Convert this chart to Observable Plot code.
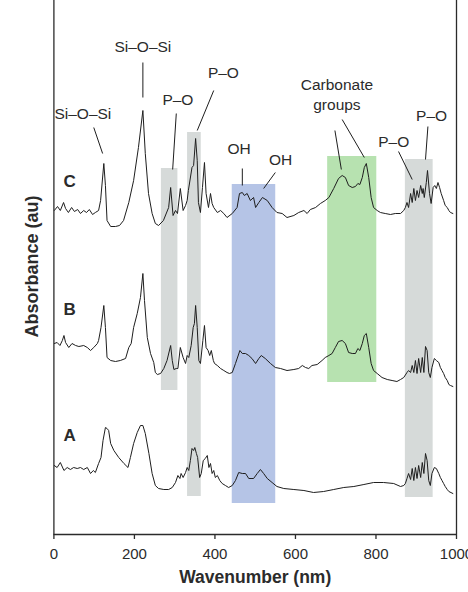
<!DOCTYPE html>
<html>
<head>
<meta charset="utf-8">
<script src="https://cdn.jsdelivr.net/npm/d3@7"></script>
<script src="https://cdn.jsdelivr.net/npm/@observablehq/plot@0.6"></script>
<style>
  html, body { margin: 0; padding: 0; background: #fff; }
  #chart svg { display: block; }
</style>
</head>
<body>
<div id="chart"></div>
<script>
// Absorbance spectra of three samples (A, B, C), offset vertically.
// Each series: [wavenumber, absorbance (au, including stacking offset)]
const spectrumC = [
  [1,3.24],[9,3.28],[16,3.24],[24,3.32],[29,3.26],[36,3.22],[44,3.27],[51,3.23],[59,3.25],[66,3.21],
  [74,3.24],[81,3.22],[88,3.25],[96,3.20],[103,3.22],[111,3.24],[116,3.34],[124,3.71],[128,3.49],[132,3.14],
  [141,3.08],[153,3.08],[163,3.09],[173,3.14],[186,3.32],[198,3.54],[210,3.87],[221,4.24],[227,3.81],[235,3.41],
  [244,3.21],[252,3.11],[260,3.09],[272,3.14],[285,3.27],[290,3.47],[296,3.19],[302,3.24],[307,3.21],[314,3.46],
  [321,3.24],[327,3.29],[331,3.34],[334,3.44],[343,3.67],[347,3.69],[352,3.96],[356,3.74],[359,3.32],[364,3.22],
  [369,3.47],[374,3.72],[378,3.41],[384,3.27],[389,3.41],[393,3.31],[397,3.27],[406,3.22],[414,3.24],[422,3.21],
  [430,3.17],[443,3.21],[455,3.27],[461,3.41],[468,3.42],[473,3.39],[480,3.41],[488,3.34],[496,3.37],[501,3.27],
  [509,3.32],[518,3.37],[530,3.34],[542,3.27],[554,3.22],[567,3.21],[579,3.17],[596,3.19],[608,3.22],[621,3.24],
  [629,3.21],[637,3.25],[650,3.27],[662,3.31],[674,3.34],[683,3.37],[695,3.46],[707,3.56],[716,3.59],[724,3.57],
  [732,3.49],[741,3.47],[749,3.48],[755,3.51],[760,3.50],[766,3.57],[771,3.67],[776,3.71],[782,3.57],[788,3.37],
  [794,3.27],[803,3.24],[811,3.22],[823,3.21],[836,3.20],[848,3.21],[861,3.21],[869,3.24],[873,3.27],[877,3.32],
  [881,3.27],[886,3.41],[890,3.32],[894,3.46],[898,3.34],[902,3.44],[906,3.37],[911,3.49],[915,3.41],[917,3.46],
  [920,3.37],[925,3.52],[928,3.64],[933,3.41],[937,3.31],[942,3.47],[946,3.49],[950,3.46],[954,3.52],[958,3.47],
  [962,3.41],[968,3.34],[972,3.29],[977,3.27],[981,3.24],[985,3.22],[991,3.21]
];

const spectrumB = [
  [1,1.91],[8,1.92],[15,1.89],[21,1.94],[25,1.99],[29,1.92],[37,1.87],[45,1.91],[54,1.89],[62,1.88],
  [74,1.89],[83,1.87],[91,1.84],[99,1.87],[108,1.91],[111,1.94],[117,2.07],[124,2.29],[128,2.07],[132,1.77],
  [141,1.74],[153,1.73],[165,1.74],[178,1.76],[186,1.87],[192,1.91],[198,2.07],[207,2.21],[215,2.37],[221,2.61],
  [225,2.34],[232,1.97],[240,1.81],[248,1.72],[252,1.62],[257,1.60],[265,1.61],[273,1.66],[281,1.74],[290,1.89],
  [294,1.74],[298,1.65],[304,1.66],[308,1.66],[314,1.87],[321,1.77],[327,1.71],[331,1.79],[335,1.77],[341,1.89],
  [346,2.07],[349,2.11],[352,2.29],[356,2.07],[360,1.74],[364,1.71],[370,1.94],[374,2.09],[378,1.87],[383,1.84],
  [387,1.79],[391,1.84],[396,1.74],[399,1.71],[406,1.69],[414,1.66],[422,1.64],[430,1.62],[436,1.61],[443,1.62],
  [451,1.71],[462,1.84],[468,1.81],[476,1.81],[484,1.79],[492,1.76],[501,1.71],[509,1.76],[515,1.79],[525,1.76],
  [538,1.71],[550,1.67],[563,1.66],[579,1.64],[596,1.65],[608,1.66],[617,1.69],[625,1.67],[633,1.66],[641,1.69],
  [654,1.70],[666,1.74],[674,1.77],[683,1.79],[691,1.81],[699,1.87],[707,1.93],[716,1.94],[724,1.91],[732,1.82],
  [741,1.81],[749,1.81],[755,1.86],[760,1.84],[766,1.91],[771,1.99],[776,2.01],[782,1.87],[788,1.71],[794,1.64],
  [803,1.61],[815,1.57],[828,1.55],[840,1.54],[852,1.53],[861,1.55],[869,1.57],[877,1.62],[881,1.64],[886,1.62],
  [890,1.69],[894,1.62],[898,1.74],[902,1.61],[906,1.76],[911,1.62],[915,1.77],[919,1.62],[923,1.88],[927,1.84],
  [931,1.62],[935,1.57],[939,1.67],[945,1.76],[950,1.74],[956,1.72],[960,1.67],[964,1.64],[968,1.61],[972,1.57],
  [977,1.54],[981,1.50],[985,1.49],[991,1.48]
];

const spectrumA = [
  [1,0.69],[8,0.67],[16,0.72],[25,0.64],[33,0.67],[41,0.65],[49,0.67],[58,0.66],[66,0.67],[74,0.65],
  [83,0.67],[91,0.61],[98,0.64],[103,0.62],[111,0.71],[117,0.77],[122,0.94],[128,1.07],[132,1.06],[136,1.04],
  [141,0.91],[149,0.84],[161,0.77],[174,0.71],[184,0.67],[190,0.77],[198,0.91],[207,1.02],[215,1.09],[221,1.09],
  [227,1.01],[236,0.81],[244,0.61],[252,0.49],[260,0.46],[273,0.45],[285,0.45],[294,0.47],[302,0.52],[308,0.59],
  [313,0.56],[316,0.61],[321,0.57],[327,0.62],[331,0.67],[335,0.64],[339,0.74],[343,0.86],[347,0.84],[350,0.87],
  [354,0.81],[357,0.77],[362,0.57],[366,0.61],[371,0.74],[376,0.76],[381,0.79],[385,0.67],[389,0.71],[393,0.61],
  [397,0.64],[401,0.57],[406,0.59],[412,0.54],[418,0.51],[426,0.49],[434,0.47],[443,0.49],[451,0.54],[459,0.62],
  [468,0.61],[476,0.61],[484,0.56],[492,0.56],[496,0.56],[505,0.61],[513,0.65],[521,0.61],[530,0.56],[542,0.52],
  [554,0.48],[571,0.46],[596,0.45],[621,0.44],[645,0.42],[670,0.43],[695,0.45],[720,0.47],[745,0.48],[770,0.50],
  [794,0.52],[819,0.52],[844,0.51],[861,0.48],[869,0.49],[873,0.51],[877,0.56],[881,0.61],[886,0.55],[890,0.66],
  [894,0.54],[898,0.67],[902,0.56],[906,0.69],[911,0.57],[915,0.72],[919,0.61],[923,0.81],[927,0.74],[931,0.54],
  [935,0.49],[939,0.61],[945,0.67],[950,0.66],[956,0.61],[960,0.57],[964,0.54],[968,0.51],[972,0.48],[977,0.45],
  [981,0.43],[991,0.41]
];

// Highlighted absorption bands: [x1, x2, y1, y2, colour]
const bands = [
  [267, 308, 1.44, 3.66, "#d6dad9"],
  [332, 366, 0.38, 4.02, "#d6dad9"],
  [443, 551, 0.31, 3.50, "#b5c4e6"],
  [680, 802, 1.52, 3.78, "#b7e2b0"],
  [873, 942, 0.37, 3.75, "#d6dad9"]
];

// Peak annotations: [text, x, y]
const annotations = [
  ["Si\u2013O\u2013Si", 72, 4.22],
  ["Si\u2013O\u2013Si", 221, 4.89],
  ["P\u2013O", 308, 4.36],
  ["P\u2013O", 421, 4.63],
  ["OH", 460, 3.87],
  ["OH", 563, 3.76],
  ["Carbonate\ngroups", 703, 4.41],
  ["P\u2013O", 844, 3.94],
  ["P\u2013O", 938, 4.20]
];

// Leader lines from each annotation to its peak: [x1, y1, x2, y2]
const leaders = [
  [99, 4.07, 121, 3.81],
  [221, 4.72, 221, 4.37],
  [304, 4.21, 295, 3.65],
  [397, 4.44, 356, 4.04],
  [468, 3.66, 468, 3.49],
  [550, 3.62, 521, 3.46],
  [698, 4.04, 714, 3.65],
  [716, 4.15, 771, 3.77],
  [856, 3.83, 890, 3.55],
  [929, 4.08, 923, 3.75]
];

// Sample labels: [name, x, y]
const sampleLabels = [
  ["C", 39, 3.53],
  ["B", 39, 2.25],
  ["A", 39, 0.99]
];

const xTicks = [0, 200, 400, 600, 800, 1000];

const font = "'Liberation Sans', Arial, Helvetica, sans-serif";
const ink = "#2b2b2b";

const chart = Plot.plot({
  width: 468,
  height: 592,
  marginLeft: 53.4,
  marginRight: 12,
  marginTop: 0,
  marginBottom: 58,
  style: { fontFamily: font, background: "#fff", overflow: "visible" },
  x: { domain: [0, 1000], label: null },
  y: { domain: [0, 5.34], axis: null },
  marks: [
    Plot.rect(bands, { x1: d => d[0], x2: d => d[1], y1: d => d[2], y2: d => d[3], fill: d => d[4] }),
    Plot.line(spectrumC, { x: d => d[0], y: d => d[1], stroke: "#1e1e1e", strokeWidth: 1 }),
    Plot.line(spectrumB, { x: d => d[0], y: d => d[1], stroke: "#1e1e1e", strokeWidth: 1 }),
    Plot.line(spectrumA, { x: d => d[0], y: d => d[1], stroke: "#1e1e1e", strokeWidth: 1 }),
    Plot.link(leaders, { x1: d => d[0], y1: d => d[1], x2: d => d[2], y2: d => d[3], stroke: "#1e1e1e", strokeWidth: 1 }),
    Plot.text(annotations, { x: d => d[1], y: d => d[2], text: d => d[0], fontSize: 15.5, fill: ink, lineHeight: 1.3 }),
    Plot.text(sampleLabels, { x: d => d[1], y: d => d[2], text: d => d[0], fontSize: 17, fontWeight: "bold", fill: ink }),
    // Frame: left and right borders plus the bottom axis line
    Plot.ruleX([0, 1000], { stroke: ink, strokeWidth: 1.3 }),
    Plot.ruleY([0], { stroke: ink, strokeWidth: 1.3 }),
    Plot.axisX({ ticks: xTicks, tickFormat: d => String(d), tickSize: 5, tickPadding: 9, fontSize: 15, stroke: ink, strokeWidth: 1.3, color: ink, label: null }),
    Plot.text(["Wavenumber (nm)"], { frameAnchor: "bottom", dy: 48, fontSize: 17.5, fontWeight: "bold", fill: ink }),
    Plot.text(["Absorbance (au)"], { x: 0, y: 5.34 - 2.66, dx: -22, rotate: -90, fontSize: 18, fontWeight: "bold", fill: ink })
  ]
});

document.getElementById("chart").appendChild(chart);
</script>
</body>
</html>
